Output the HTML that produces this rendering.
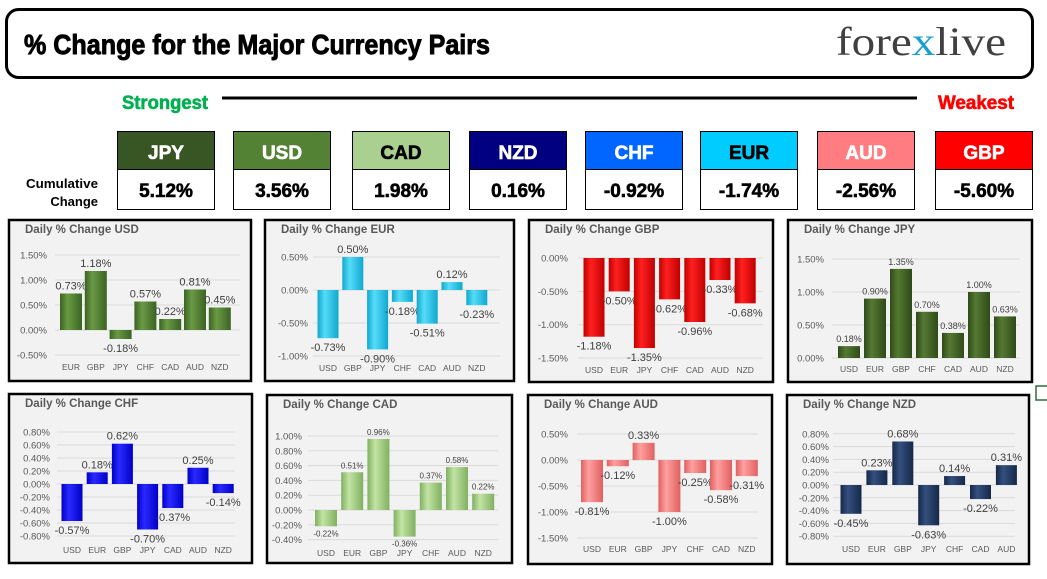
<!DOCTYPE html>
<html><head><meta charset="utf-8"><style>
html,body{margin:0;padding:0;background:#fff;width:1047px;height:579px;overflow:hidden}
svg{display:block;font-family:"Liberation Sans",sans-serif}
</style></head><body>
<svg id="root" width="1047" height="579" viewBox="0 0 1047 579" xmlns="http://www.w3.org/2000/svg">
<defs id="defs"></defs>
<g>
<rect x="6.5" y="9.5" width="1026" height="68" rx="12" fill="#fff" stroke="#000" stroke-width="3"/>
<text x="24" y="54" font-family="'Liberation Sans Narrow','Liberation Sans',sans-serif" font-weight="bold" font-size="28" textLength="466" lengthAdjust="spacingAndGlyphs" fill="#000" stroke="#000" stroke-width="0.9">% Change for the Major Currency Pairs</text>
<g>
<text x="836" y="55" font-family="'Liberation Serif',serif" font-size="40" fill="#404040" textLength="170" lengthAdjust="spacingAndGlyphs">fore<tspan fill="#1a9fd0">x</tspan>live</text>
</g>
</g>
<text x="122" y="109" font-family="'Liberation Sans Narrow','Liberation Sans',sans-serif" font-weight="bold" font-size="19" fill="#00b050" stroke="#00b050" stroke-width="0.6" textLength="86" lengthAdjust="spacingAndGlyphs">Strongest</text>
<line x1="222" y1="98" x2="917" y2="98" stroke="#000" stroke-width="3"/>
<text x="938" y="109" font-family="'Liberation Sans Narrow','Liberation Sans',sans-serif" font-weight="bold" font-size="19" fill="#ff0000" stroke="#ff0000" stroke-width="0.6" textLength="76" lengthAdjust="spacingAndGlyphs">Weakest</text>
<text x="98" y="188" text-anchor="end" font-weight="bold" font-size="13" textLength="72" lengthAdjust="spacingAndGlyphs">Cumulative</text>
<text x="98" y="206" text-anchor="end" font-weight="bold" font-size="13">Change</text>
<g id="boxes"></g>
<g id="charts"></g>
<path d="M1047 386 H1036 V400 H1047" fill="none" stroke="#2e6b3a" stroke-width="1.5"/>
</svg>
<script>
// Cumulative ranking
const rankCurrencies = ["JPY","USD","CAD","NZD","CHF","EUR","AUD","GBP"];
const rankValues = [5.12,3.56,1.98,0.16,-0.92,-1.74,-2.56,-5.60];

// Chart data
const usdCats = ["EUR","GBP","JPY","CHF","CAD","AUD","NZD"];
const usdVals = [0.73,1.18,-0.18,0.57,0.22,0.81,0.45];
const usdTicks = [-0.5,0,0.5,1,1.5];
const eurCats = ["USD","GBP","JPY","CHF","CAD","AUD","NZD"];
const eurVals = [-0.73,0.50,-0.90,-0.18,-0.51,0.12,-0.23];
const eurTicks = [-1,-0.5,0,0.5];
const gbpCats = ["USD","EUR","JPY","CHF","CAD","AUD","NZD"];
const gbpVals = [-1.18,-0.50,-1.35,-0.62,-0.96,-0.33,-0.68];
const gbpTicks = [-1.5,-1,-0.5,0];
const jpyCats = ["USD","EUR","GBP","CHF","CAD","AUD","NZD"];
const jpyVals = [0.18,0.90,1.35,0.70,0.38,1.00,0.63];
const jpyTicks = [0,0.5,1,1.5];
const chfCats = ["USD","EUR","GBP","JPY","CAD","AUD","NZD"];
const chfVals = [-0.57,0.18,0.62,-0.70,-0.37,0.25,-0.14];
const chfTicks = [-0.8,-0.6,-0.4,-0.2,0,0.2,0.4,0.6,0.8];
const cadCats = ["USD","EUR","GBP","JPY","CHF","AUD","NZD"];
const cadVals = [-0.22,0.51,0.96,-0.36,0.37,0.58,0.22];
const cadTicks = [-0.4,-0.2,0,0.2,0.4,0.6,0.8,1.0];
const audCats = ["USD","EUR","GBP","JPY","CHF","CAD","NZD"];
const audVals = [-0.81,-0.12,0.33,-1.00,-0.25,-0.58,-0.31];
const audTicks = [-1.5,-1,-0.5,0,0.5];
const nzdCats = ["USD","EUR","GBP","JPY","CHF","CAD","AUD"];
const nzdVals = [-0.45,0.23,0.68,-0.63,0.14,-0.22,0.31];
const nzdTicks = [-0.8,-0.6,-0.4,-0.2,0,0.2,0.4,0.6,0.8];

const NS="http://www.w3.org/2000/svg";
function mk(tag,attrs,parent){const e=document.createElementNS(NS,tag);for(const k in attrs)e.setAttribute(k,attrs[k]);if(parent)parent.appendChild(e);return e;}

// boxes
const boxX=[117,233,352,469,585,700,817,935];
const hdrColors=["#375623","#548235","#a9d08e","#000080","#0066ff","#00ccff","#ff7c80","#ff0000"];
const hdrText=["#fff","#fff","#000","#fff","#fff","#000","#fff","#fff"];
const boxes=document.getElementById('boxes');
rankCurrencies.forEach((c,i)=>{
  const g=mk('g',{},boxes);
  
  
  mk('rect',{x:boxX[i]+0.5,y:131.5,width:97,height:38,fill:hdrColors[i],stroke:'#000','stroke-width':1},g);
  mk('rect',{x:boxX[i]+0.5,y:169.5,width:97,height:40,fill:'#fff',stroke:'#000','stroke-width':1},g);
  const t=mk('text',{x:boxX[i]+49,y:159,'text-anchor':'middle','font-weight':'bold','font-size':19,fill:hdrText[i],stroke:hdrText[i],'stroke-width':0.6},g);
  t.textContent=c;
  const v=mk('text',{x:boxX[i]+49,y:197,'text-anchor':'middle','font-weight':'bold','font-size':19,fill:'#000',stroke:'#000','stroke-width':0.6},g);
  v.textContent=rankValues[i].toFixed(2)+'%';
});

// charts
const defs=document.getElementById('defs');
function grad(id,dark,light){
  const lg=mk('linearGradient',{id:id,x1:0,y1:0,x2:1,y2:0},defs);
  mk('stop',{offset:'0','stop-color':dark},lg);
  mk('stop',{offset:'0.35','stop-color':light},lg);
  mk('stop',{offset:'1','stop-color':dark},lg);
}
const charts=[
 {name:'usd',title:'Daily % Change USD',cats:usdCats,vals:usdVals,ticks:usdTicks,box:[8,219,244,163],y0:330,k:50,c0:71,sp:24.8,bw:22,lx:47,gx:[55,240],cy:367,fs:11,dark:'#3b6322',light:'#6a9a45'},
 {name:'eur',title:'Daily % Change EUR',cats:eurCats,vals:eurVals,ticks:eurTicks,box:[264,219,251,163],y0:290,k:66,c0:328,sp:24.8,bw:21,lx:308,gx:[313,500],cy:368,fs:11,dark:'#10a8d0',light:'#55dcf8'},
 {name:'gbp',title:'Daily % Change GBP',cats:gbpCats,vals:gbpVals,ticks:gbpTicks,box:[528,219,246,164],y0:258,k:66.7,c0:594,sp:25.2,bw:21,lx:568,gx:[578,763],cy:370,fs:11,dark:'#c00000',light:'#ff2020'},
 {name:'jpy',title:'Daily % Change JPY',cats:jpyCats,vals:jpyVals,ticks:jpyTicks,box:[787,219,246,164],y0:358,k:66,c0:849,sp:26,bw:22,lx:824,gx:[832,1020],cy:369,fs:9,dark:'#2f4a18',light:'#557a33'},
 {name:'chf',title:'Daily % Change CHF',cats:chfCats,vals:chfVals,ticks:chfTicks,box:[8,393,245,171],y0:484,k:65,c0:72,sp:25.2,bw:21,lx:50,gx:[57,235],cy:550,fs:11,dark:'#0000c8',light:'#2a2aff'},
 {name:'cad',title:'Daily % Change CAD',cats:cadCats,vals:cadVals,ticks:cadTicks,box:[266,394,247,170],y0:510,k:74,c0:326,sp:26.2,bw:22,lx:302,gx:[308,498],cy:553,fs:8,dark:'#80b060',light:'#c2e4a4'},
 {name:'aud',title:'Daily % Change AUD',cats:audCats,vals:audVals,ticks:audTicks,box:[527,394,246,171],y0:460,k:52,c0:592,sp:25.8,bw:22,lx:568,gx:[577,758],cy:549,fs:11,dark:'#e06060',light:'#ffa0a0'},
 {name:'nzd',title:'Daily % Change NZD',cats:nzdCats,vals:nzdVals,ticks:nzdTicks,box:[786,394,244,171],y0:485,k:64,c0:851,sp:25.9,bw:21,lx:829,gx:[833,1015],cy:549,fs:11,dark:'#152848',light:'#34507e'}
];
const root=document.getElementById('charts');
charts.forEach(c=>{
  grad('g-'+c.name,c.dark,c.light);
  const yS=v=>c.y0-v*c.k;
  const xS=i=>c.c0+i*c.sp;
  const g=mk('g',{},root);
  
  
  const b=c.box;
  const bg=mk('rect',{x:b[0]+1,y:b[1]+1,width:b[2]-2,height:b[3]-2,fill:'#f2f2f2',stroke:'#000','stroke-width':2.5},g);
  
  
  const tt=mk('text',{x:b[0]+17,y:b[1]+14,'font-size':11.5,'font-weight':'bold',fill:'#595959'},g);
  tt.textContent=c.title;
  
  
  c.ticks.forEach(t=>{
    const y=yS(t);
    const gl=mk('line',{x1:c.gx[0],x2:c.gx[1],y1:y,y2:y,stroke:'#d9d9d9','stroke-width':1},g);
    
    
    const tl=mk('text',{x:c.lx,y:y+3.5,'text-anchor':'end','font-size':9.5,fill:'#595959'},g);
    tl.textContent=t.toFixed(2)+'%';
    
    
  });
  c.cats.forEach((cat,i)=>{
    const v=c.vals[i];
    const x=xS(i);
    const y1=Math.min(yS(v),yS(0)), h=Math.abs(yS(v)-yS(0));
    const r=mk('rect',{x:x-c.bw/2,y:y1,width:c.bw,height:Math.max(h,1),fill:'url(#g-'+c.name+')'},g);
    
    
    const dl=mk('text',{x:x,y:v>=0?yS(v)-4:yS(v)+c.fs+2,'text-anchor':'middle','font-size':c.fs,fill:'#404040'},g);
    dl.textContent=v.toFixed(2)+'%';
    
    
    const cl=mk('text',{x:x,y:c.cy+3,'text-anchor':'middle','font-size':8.5,fill:'#595959'},g);
    cl.textContent=cat;
    
    
  });
});
</script>
</body></html>
